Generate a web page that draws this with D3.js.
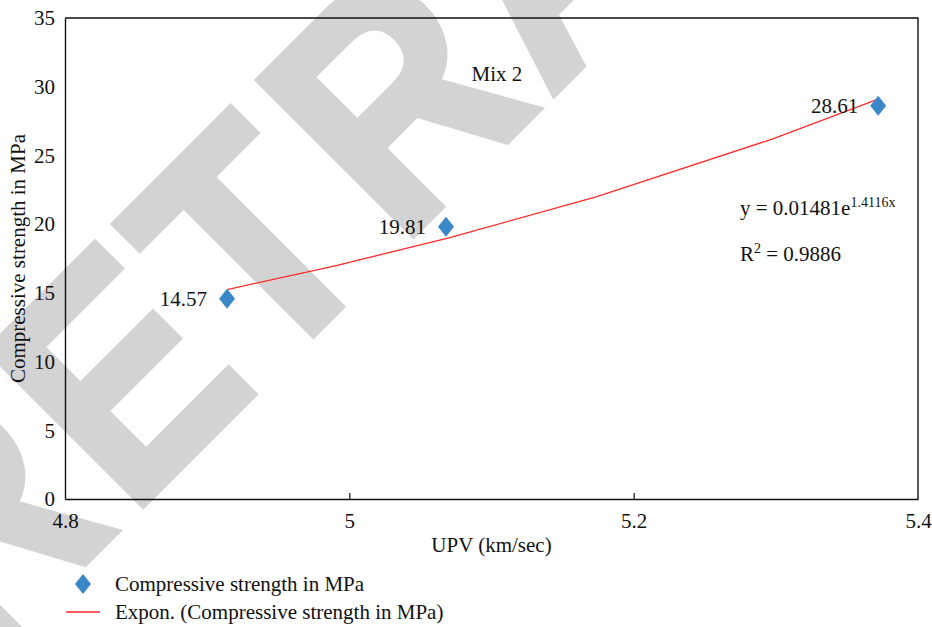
<!DOCTYPE html>
<html>
<head>
<meta charset="utf-8">
<script src="https://cdn.jsdelivr.net/npm/d3@7"></script>
<style>
  html, body { margin: 0; padding: 0; background: #fff; }
  svg { display: block; }
  .serif { font-family: "Liberation Serif", "Times New Roman", Times, "Noto Serif", "DejaVu Serif", serif; fill: #111; }
</style>
</head>
<body>
<svg id="chart" width="932" height="627"></svg>
<script>
// Measured mix: pulse velocity vs. compressive strength (Mix 2)
const upv = [4.914, 5.068, 5.372];
const strength = [14.57, 19.81, 28.61];
const pointLabels = ["14.57", "19.81", "28.61"];

// Exponential trendline as reported: y = a * e^(b x)
const trendA = 0.01481;
const trendB = 1.4116;
const trendX = [4.914, 4.99, 5.07, 5.173, 5.297, 5.372];

const xTicks = [4.8, 5, 5.2, 5.4];
const xTickLabels = ["4.8", "5", "5.2", "5.4"];
const yTicks = [0, 5, 10, 15, 20, 25, 30, 35];

const chartTitle = "Mix 2";
const xTitle = "UPV (km/sec)";
const yTitle = "Compressive strength in MPa";
const seriesName = "Compressive strength in MPa";
const trendName = "Expon. (Compressive strength in MPa)";
const watermark = "RETRACTED";

const serifStack = '"Liberation Serif", "Times New Roman", Times, "Noto Serif", "DejaVu Serif", serif';
const fs = 21;

const svg = d3.select("#chart");
const plot = { left: 65, right: 918, top: 18, bottom: 499 };

const x = d3.scaleLinear().domain([4.8, 5.4]).range([plot.left, plot.right]);
const y = d3.scaleLinear().domain([0, 35]).range([plot.bottom, plot.top]);

// Background watermark, drawn first so everything sits on top of it.
// Letters are set one by one along a 45° baseline in a slightly condensed bold sans.
const wmSqueeze = 0.88;
const wmAdvance = [-395, -180, 14, 202, 413, 620, 826, 1000, 1180];
const wm = svg.append("text")
  .attr("transform", `translate(257,391) rotate(-45) scale(${wmSqueeze},1)`)
  .style("font-family", "'Liberation Sans', Arial, Helvetica, sans-serif")
  .style("font-weight", "bold")
  .style("font-size", "318px")
  .style("fill", "#d3d3d3")
  .style("stroke", "#d3d3d3")
  .style("stroke-width", "7px")
  .style("stroke-linejoin", "miter");
wm.selectAll("tspan").data(watermark.split("")).join("tspan")
  .attr("x", (d, i) => wmAdvance[i] / wmSqueeze)
  .attr("y", 0)
  .text(d => d);

// Axes
const xAxis = d3.axisBottom(x).tickValues(xTicks).tickFormat((d, i) => xTickLabels[i])
  .tickSizeInner(-6).tickSizeOuter(0).tickPadding(14);
const gx = svg.append("g").attr("transform", `translate(0,${plot.bottom})`).call(xAxis);
gx.attr("font-family", null).attr("font-size", null);
gx.select(".domain").attr("stroke", "#111").attr("stroke-width", 1.4);
gx.selectAll(".tick line").attr("stroke", "#111").attr("stroke-width", 1.2)
  .attr("display", d => (d === 4.8 || d === 5.4) ? "none" : null);
gx.selectAll(".tick text").attr("class", "serif").style("font-family", serifStack)
  .style("font-size", fs + "px").attr("fill", "#111");

const yAxis = d3.axisLeft(y).tickValues(yTicks).tickSize(0).tickPadding(10);
const gy = svg.append("g").attr("transform", `translate(${plot.left},0)`).call(yAxis);
gy.attr("font-family", null).attr("font-size", null);
gy.select(".domain").attr("stroke", "#111").attr("stroke-width", 1.4);
gy.selectAll(".tick text").attr("class", "serif").style("font-family", serifStack)
  .style("font-size", fs + "px").attr("fill", "#111");

// Frame top and right
svg.append("path")
  .attr("d", `M${plot.left},${plot.top}H${plot.right}V${plot.bottom}`)
  .attr("fill", "none").attr("stroke", "#111").attr("stroke-width", 1.4);

// Trendline
const trend = trendX.map(v => [v, trendA * Math.exp(trendB * v)]);
svg.append("path")
  .datum(trend)
  .attr("d", d3.line().x(d => x(d[0])).y(d => y(d[1])))
  .attr("fill", "none").attr("stroke", "#ff2a2a").attr("stroke-width", 1.3);

// Diamond markers
const diamond = (cx, cy, w, h) => `M${cx},${cy - h / 2}L${cx + w / 2},${cy}L${cx},${cy + h / 2}L${cx - w / 2},${cy}Z`;
const pts = upv.map((v, i) => ({ x: v, y: strength[i], label: pointLabels[i] }));
svg.append("g").selectAll("path").data(pts).join("path")
  .attr("d", d => diamond(x(d.x), y(d.y), 16, 20))
  .attr("fill", "#3b88c8");

const txt = (sel) => sel.attr("class", "serif").style("font-family", serifStack).style("font-size", fs + "px");

svg.append("g").selectAll("text").data(pts).join("text")
  .call(txt)
  .attr("x", d => x(d.x) - 20)
  .attr("y", d => y(d.y))
  .attr("dy", "0.35em")
  .attr("text-anchor", "end")
  .text(d => d.label);

// Chart title
svg.append("text").call(txt).attr("x", 497).attr("y", 74).attr("dy", "0.35em")
  .attr("text-anchor", "middle").text(chartTitle);

// Trend equation and R²
const eq = svg.append("text").call(txt).attr("x", 740).attr("y", 215);
eq.append("tspan").text("y = 0.01481e");
eq.append("tspan").attr("dy", -8).style("font-size", "14px").text("1.4116x");

const r2 = svg.append("text").call(txt).attr("x", 740).attr("y", 261);
r2.append("tspan").text("R");
r2.append("tspan").attr("dy", -8).style("font-size", "14px").text("2");
r2.append("tspan").attr("dy", 8).text(" = 0.9886");

// Axis titles
svg.append("text").call(txt).attr("x", (plot.left + plot.right) / 2).attr("y", 545).attr("dy", "0.35em")
  .attr("text-anchor", "middle").text(xTitle);
svg.append("text").call(txt)
  .attr("transform", `translate(18,${(plot.top + plot.bottom) / 2}) rotate(-90)`)
  .attr("dy", "0.35em").attr("text-anchor", "middle").text(yTitle);

// Legend
svg.append("path").attr("d", diamond(83, 584, 16, 20)).attr("fill", "#3b88c8");
svg.append("text").call(txt).attr("x", 115).attr("y", 584).attr("dy", "0.35em").text(seriesName);
svg.append("line").attr("x1", 66).attr("x2", 100).attr("y1", 612).attr("y2", 612)
  .attr("stroke", "#ff2a2a").attr("stroke-width", 1.3);
svg.append("text").call(txt).attr("x", 115).attr("y", 612).attr("dy", "0.35em").text(trendName);
</script>
</body>
</html>
